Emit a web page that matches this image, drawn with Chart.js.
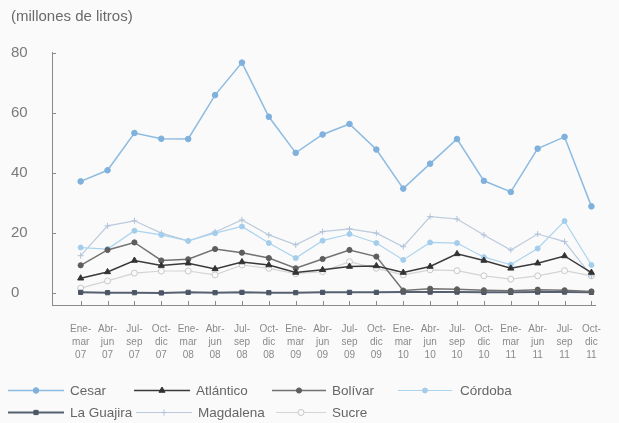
<!DOCTYPE html>
<html>
<head>
<meta charset="utf-8">
<script src="https://cdn.jsdelivr.net/npm/chart.js@4"></script>
<style>
  html, body { margin: 0; padding: 0; background: #f9faf9; }
  #wrap { position: relative; width: 619px; height: 423px; }
  #chart { position: absolute; left: 0; top: 0; }
  .leg { position: absolute; height: 16px; display: flex; align-items: center;
         font: 13.5px "Liberation Sans", Arial, sans-serif; color: #666; white-space: nowrap; }
  .leg canvas { margin-right: 6px; }
</style>
</head>
<body>
<div id="wrap">
  <canvas id="chart" width="619" height="423"></canvas>
</div>
<script>
// Trimestres
const xLabels = [
    ['Ene-', 'mar', '07'], ['Abr-', 'jun', '07'], ['Jul-', 'sep', '07'], ['Oct-', 'dic', '07'],
    ['Ene-', 'mar', '08'], ['Abr-', 'jun', '08'], ['Jul-', 'sep', '08'], ['Oct-', 'dic', '08'],
    ['Ene-', 'mar', '09'], ['Abr-', 'jun', '09'], ['Jul-', 'sep', '09'], ['Oct-', 'dic', '09'],
    ['Ene-', 'mar', '10'], ['Abr-', 'jun', '10'], ['Jul-', 'sep', '10'], ['Oct-', 'dic', '10'],
    ['Ene-', 'mar', '11'], ['Abr-', 'jun', '11'], ['Jul-', 'sep', '11'], ['Oct-', 'dic', '11']
];
const yTicks = [0, 20, 40, 60, 80];

// millones de litros
const cesar     = [37.2, 40.9, 53.3, 51.4, 51.3, 65.9, 76.7, 58.7, 46.7, 52.8, 56.3, 47.8, 34.8, 43.1, 51.3, 37.4, 33.7, 48.1, 52.0, 28.9];
const atlantico = [5.0, 7.1, 10.9, 9.2, 10.0, 8.1, 10.4, 9.4, 6.9, 7.8, 8.9, 9.1, 6.9, 8.9, 13.1, 10.9, 8.3, 10.0, 12.4, 6.9];
const bolivar   = [9.3, 14.4, 16.9, 10.9, 11.3, 14.7, 13.5, 11.7, 8.3, 11.4, 14.4, 12.2, 0.9, 1.5, 1.3, 1.0, 0.8, 1.2, 1.0, 0.6];
const cordoba   = [15.2, 14.7, 20.8, 19.4, 17.4, 20.0, 22.2, 16.7, 11.7, 17.5, 19.7, 16.7, 11.1, 16.9, 16.7, 12.0, 9.5, 14.9, 24.0, 9.4];
const laGuajira = [0.3, 0.2, 0.2, 0.1, 0.3, 0.2, 0.3, 0.2, 0.2, 0.3, 0.3, 0.3, 0.4, 0.4, 0.4, 0.3, 0.3, 0.4, 0.4, 0.3];
const magdalena = [12.5, 22.4, 24.1, 20.0, 17.4, 20.4, 24.4, 19.4, 16.1, 20.5, 21.4, 20.0, 15.5, 25.5, 24.7, 19.4, 14.4, 19.7, 17.2, 5.8];
const sucre     = [1.7, 4.1, 6.7, 7.4, 7.4, 6.1, 9.4, 8.3, 6.5, 7.2, 10.5, 8.3, 6.1, 7.8, 7.5, 5.8, 4.7, 5.8, 7.5, 5.8];

const seriesNames = ['Cesar', 'Atlántico', 'Bolívar', 'Córdoba', 'La Guajira', 'Magdalena', 'Sucre'];
const seriesData = [cesar, atlantico, bolivar, cordoba, laGuajira, magdalena, sucre];

const FONT = '"Liberation Sans", Arial, sans-serif';
const axisColor = '#8a8a8a';
const bg = '#f9faf9';

// estilo de cada serie
const styles = [
    { color: '#8dbbe2', point: 'circle',   r: 2.8, w: 1.5, fill: '#7fb1dc' },
    { color: '#3a3a3a', point: 'triangle', r: 3.5, w: 1.5, fill: '#333333' },
    { color: '#727272', point: 'circle',   r: 2.6, w: 1.5, fill: '#5e5e5e' },
    { color: '#abd3ee', point: 'circle',   r: 2.5, w: 1.2, fill: '#a3cdea' },
    { color: '#566070', point: 'rect',     r: 3,   w: 2,   fill: '#4c5566' },
    { color: '#bccadd', point: 'cross',    r: 3,   w: 1.2, fill: '#b0c2da' },
    { color: '#d4d4d4', point: 'circle',   r: 3,   w: 1.2, fill: bg }
];

const datasets = seriesData.map((vals, i) => ({
    label: seriesNames[i],
    data: vals.map((v, j) => ({ x: j, y: v })),
    borderColor: styles[i].color,
    borderWidth: styles[i].w,
    pointStyle: styles[i].point,
    pointRadius: styles[i].r,
    pointBackgroundColor: styles[i].fill,
    pointBorderColor: i === 6 ? '#c8c8c8' : styles[i].fill,
    pointBorderWidth: 1,
    tension: 0
}));

// pequeñas marcas de escala hacia dentro
const tickMarks = {
    id: 'tickMarks',
    afterDraw(chart) {
        const { ctx, scales: { x, y } } = chart;
        ctx.save();
        ctx.strokeStyle = axisColor;
        ctx.lineWidth = 1;
        ctx.beginPath();
        x.ticks.forEach(t => {
            const px = Math.round(x.getPixelForValue(t.value)) + 0.5;
            ctx.moveTo(px, y.bottom);
            ctx.lineTo(px, y.bottom - 4);
        });
        y.ticks.forEach(t => {
            const py = Math.round(y.getPixelForValue(t.value)) + 0.5;
            ctx.moveTo(x.left, py);
            ctx.lineTo(x.left + 4, py);
        });
        ctx.stroke();
        ctx.restore();
    }
};

const chart = new Chart(document.getElementById('chart'), {
    type: 'line',
    data: { datasets },
    plugins: [tickMarks],
    options: {
        responsive: false,
        animation: false,
        layout: { padding: { left: 11, right: 17, top: 8, bottom: 60 } },
        plugins: {
            legend: { display: false },
            tooltip: { enabled: false },
            title: {
                display: true,
                text: '(millones de litros)',
                align: 'start',
                color: '#6a6a6a',
                font: { family: FONT, size: 15, weight: 'normal', lineHeight: 1.2 },
                padding: { top: 0, bottom: 26.7 }
            }
        },
        scales: {
            x: {
                type: 'linear',
                min: -1.066,
                max: 19.15,
                afterFit: s => { s.height = 58; },
                afterBuildTicks: s => { s.ticks = xLabels.map((_, i) => ({ value: i })); },
                grid: { display: false, drawTicks: false },
                border: { display: true, color: axisColor, width: 1 },
                ticks: {
                    autoSkip: false,
                    maxRotation: 0,
                    padding: 18,
                    color: '#8a8a8a',
                    font: { family: FONT, size: 10, lineHeight: 1.3 },
                    callback: v => xLabels[v]
                }
            },
            y: {
                min: -3.9,
                max: 80,
                afterFit: s => { s.width = 41; },
                afterBuildTicks: s => { s.ticks = yTicks.map(v => ({ value: v })); },
                grid: { display: false, drawTicks: false },
                border: { display: true, color: axisColor, width: 1 },
                ticks: {
                    crossAlign: 'far',
                    color: '#7a7a7a',
                    font: { family: FONT, size: 15 },
                    callback: v => String(v)
                }
            }
        }
    }
});

// leyenda en HTML, en dos filas
const legendRowY = [390, 390, 390, 390, 412, 412, 412];
const lineLen = [[8, 64], [134, 190], [272, 326], [398, 452], [8, 64], [136, 192], [276, 326]];
const wrap = document.getElementById('wrap');
seriesNames.forEach((name, i) => {
    const item = document.createElement('div');
    item.className = 'leg';
    const start = lineLen[i][0];
    const sw = lineLen[i][1] - start;
    item.style.left = start + 'px';
    item.style.top = (legendRowY[i] - 8) + 'px';
    const c = document.createElement('canvas');
    c.width = sw; c.height = 14;
    const g = c.getContext('2d');
    g.strokeStyle = styles[i].color;
    g.lineWidth = styles[i].w;
    g.beginPath(); g.moveTo(0, 7.5); g.lineTo(sw, 7.5); g.stroke();
    if (Chart.helpers && Chart.helpers.drawPoint) {
        g.fillStyle = styles[i].fill;
        g.strokeStyle = datasets[i].pointBorderColor;
        g.lineWidth = 1;
        Chart.helpers.drawPoint(g, { pointStyle: styles[i].point, radius: styles[i].r, borderWidth: 1 }, sw / 2, 7.5);
    }
    if (i === 3) c.style.marginRight = '8px';
    item.appendChild(c);
    const t = document.createElement('span');
    t.textContent = name;
    item.appendChild(t);
    wrap.appendChild(item);
});
</script>
</body>
</html>
